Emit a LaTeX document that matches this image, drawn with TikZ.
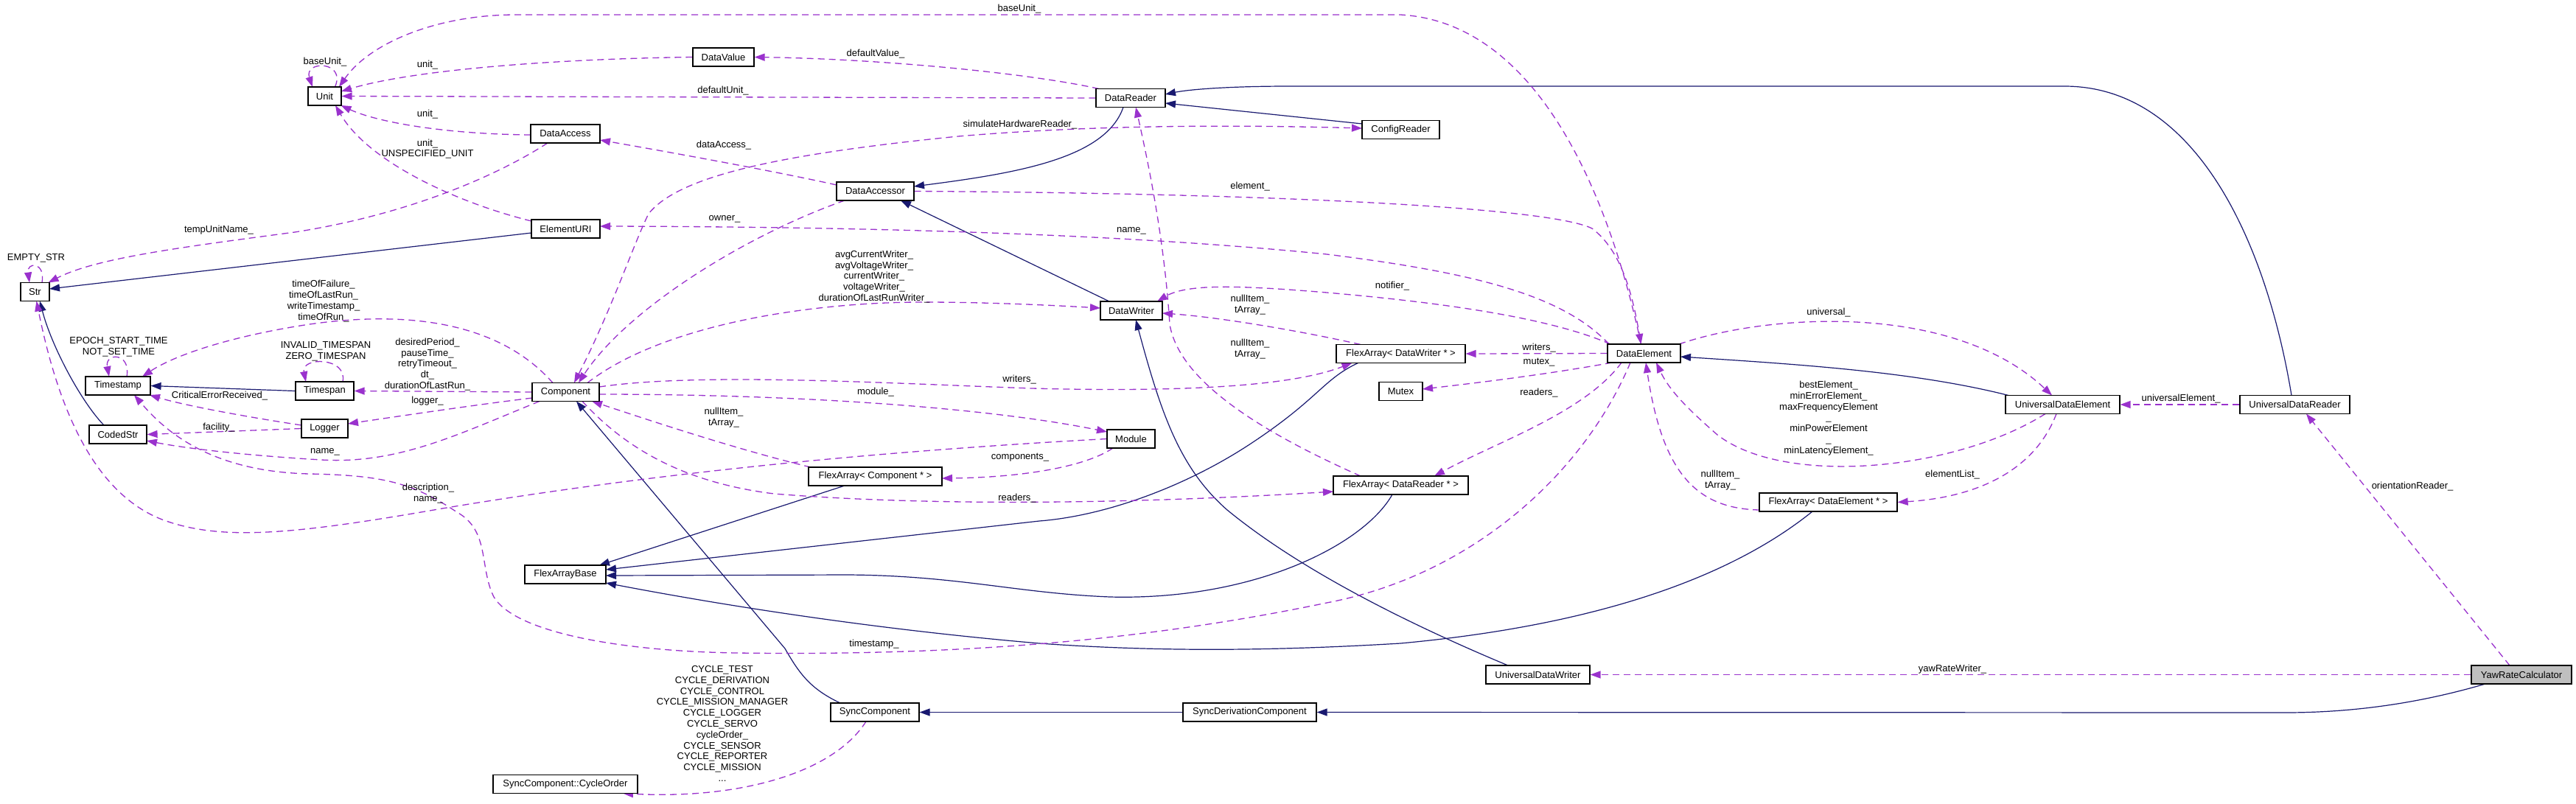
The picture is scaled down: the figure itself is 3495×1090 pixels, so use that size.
\documentclass[tikz,border=0pt]{standalone}
\usepackage{fontspec}
\setmainfont{Liberation Sans}
\usetikzlibrary{arrows.meta,calc}
\pgfdeclarelayer{back}
\pgfdeclarelayer{bg}
\pgfsetlayers{back,bg,main}
\definecolor{usecol}{HTML}{9A32CD}
\definecolor{inhcol}{HTML}{191970}
\definecolor{focus}{HTML}{BFBFBF}
\newcommand{\lblfont}{\fontsize{13}{14.8}\selectfont}
\begin{document}
\begin{tikzpicture}[x=1pt,y=-1pt,
 box/.style={draw=black, line width=1.2pt, fill=white, minimum height=25pt, inner sep=0pt, font=\lblfont},
 lbl/.style={inner sep=0pt, align=center, font=\lblfont},
 use/.style={draw=usecol, line width=1.3pt, dash pattern=on 9pt off 6pt, -{Triangle[length=14pt,width=10pt]}},
 usetwo/.style={draw=usecol, line width=1.3pt, dash pattern=on 9pt off 6pt, {Triangle[length=14pt,width=10pt]}-{Triangle[length=14pt,width=10pt]}},
 inh/.style={draw=inhcol, line width=1.2pt, -{Triangle[length=14pt,width=10pt]}},
]
\begin{pgfonlayer}{back}
\fill[white] (0,0) rectangle (3495,1090);
\end{pgfonlayer}
\useasboundingbox (0,0) rectangle (3495,1090);

% nodes
\node[box,minimum width=45pt] (Unit) at (440.5,130.5) {Unit};
\node[box,minimum width=83pt] (DataValue) at (981.5,77.5) {DataValue};
\node[box,minimum width=94pt] (DataAccess) at (767,181.5) {DataAccess};
\node[box,minimum width=93pt] (ElementURI) at (767.5,310.5) {ElementURI};
\node[box,minimum width=39pt] (Str) at (47.5,396) {Str};
\node[box,minimum width=88pt] (Timestamp) at (160,523.5) {Timestamp};
\node[box,minimum width=79pt] (Timespan) at (440.5,530.5) {Timespan};
\node[box,minimum width=91pt] (Component) at (767.5,532) {Component};
\node[box,minimum width=78pt] (CodedStr) at (160,589.5) {CodedStr};
\node[box,minimum width=63pt] (Logger) at (440.5,581.5) {Logger};
\node[box,minimum width=110pt] (FAB) at (767,779.5) {FlexArrayBase};
\node[box,minimum width=196pt] (CycleOrder) at (767,1064) {SyncComponent::CycleOrder};
\node[box,minimum width=94pt] (DataReader) at (1534,133) {DataReader};
\node[box,minimum width=105pt] (ConfigReader) at (1900.5,176) {ConfigReader};
\node[box,minimum width=105pt] (DataAccessor) at (1187.5,259.5) {DataAccessor};
\node[box,minimum width=84pt] (DataWriter) at (1535,421.5) {DataWriter};
\node[box,minimum width=175pt] (FADW) at (1900.5,480) {FlexArray< DataWriter * >};
\node[box,minimum width=59pt] (Mutex) at (1900.5,531) {Mutex};
\node[box,minimum width=65pt] (Module) at (1534.5,595.5) {Module};
\node[box,minimum width=181pt] (FAC) at (1187.5,646.5) {FlexArray< Component * >};
\node[box,minimum width=183pt] (FADR) at (1900.5,658.5) {FlexArray< DataReader * >};
\node[box,minimum width=120pt] (SyncComp) at (1187,966.5) {SyncComponent};
\node[box,minimum width=181pt] (SyncDeriv) at (1695.5,966.5) {SyncDerivationComponent};
\node[box,minimum width=99pt] (DE) at (2230.5,479.5) {DataElement};
\node[box,minimum width=155pt] (UDE) at (2798.5,549) {UniversalDataElement};
\node[box,minimum width=149pt] (UDR) at (3113.5,549) {UniversalDataReader};
\node[box,minimum width=187pt] (FADE) at (2480.5,681.5) {FlexArray< DataElement * >};
\node[box,minimum width=141pt] (UDW) at (2086.5,915.5) {UniversalDataWriter};
\node[box,minimum width=136pt,fill=focus] (YRC) at (3421,915.5) {YawRateCalculator};

% labels
\node[lbl] (lA) at (441,84) {baseUnit\_};
\node[lbl] (lB) at (580,88) {unit\_};
\node[lbl] (lC) at (580,155) {unit\_};
\node[lbl] (lD) at (580,202) {unit\_\\UNSPECIFIED\_UNIT};
\node[lbl] (lE) at (1383,12) {baseUnit\_};
\node[lbl] (lF) at (1188,73) {defaultValue\_};
\node[lbl] (lG) at (981,123) {defaultUnit\_};
\node[lbl] (lH) at (1384,169) {simulateHardwareReader\_};
\node[lbl] (lI) at (982,197) {dataAccess\_};
\node[lbl] (lJ) at (1696,253) {element\_};
\node[lbl] (lK) at (983,297) {owner\_};
\node[lbl] (lL) at (1535,313) {name\_};
\node[lbl] (lM) at (297,312) {tempUnitName\_};
\node[lbl] (lN) at (49,350) {EMPTY\_STR};
\node[lbl] (lO) at (1186,375.5) {avgCurrentWriter\_\\avgVoltageWriter\_\\currentWriter\_\\voltageWriter\_\\durationOfLastRunWriter\_};
\node[lbl] (lP) at (1889,388) {notifier\_};
\node[lbl] (lQ) at (439,408.5) {timeOfFailure\_\\timeOfLastRun\_\\writeTimestamp\_\\timeOfRun\_};
\node[lbl] (lR) at (1696,414) {nullItem\_\\tArray\_};
\node[lbl] (lS) at (1696,474) {nullItem\_\\tArray\_};
\node[lbl] (lT) at (161,470.5) {EPOCH\_START\_TIME\\NOT\_SET\_TIME};
\node[lbl] (lU) at (442,477) {INVALID\_TIMESPAN\\ZERO\_TIMESPAN};
\node[lbl] (lV) at (580,494.5) {desiredPeriod\_\\pauseTime\_\\retryTimeout\_\\dt\_\\durationOfLastRun\_};
\node[lbl] (lW) at (1383,515) {writers\_};
\node[lbl] (lX) at (1188,532) {module\_};
\node[lbl] (lY) at (298,537) {CriticalErrorReceived\_};
\node[lbl] (lZ) at (580,544) {logger\_};
\node[lbl] (la) at (297,580) {facility\_};
\node[lbl] (lb) at (441,613) {name\_};
\node[lbl] (lc) at (982,567) {nullItem\_\\tArray\_};
\node[lbl] (ld) at (1384,621) {components\_};
\node[lbl] (le) at (581,669.5) {description\_\\name\_};
\node[lbl] (lf) at (1380,676) {readers\_};
\node[lbl] (lg) at (1186,874) {timestamp\_};
\node[lbl] (lh) at (980,982) {CYCLE\_TEST\\CYCLE\_DERIVATION\\CYCLE\_CONTROL\\CYCLE\_MISSION\_MANAGER\\CYCLE\_LOGGER\\CYCLE\_SERVO\\cycleOrder\_\\CYCLE\_SENSOR\\CYCLE\_REPORTER\\CYCLE\_MISSION\\...};
\node[lbl] (li) at (2481,424) {universal\_};
\node[lbl] (lj) at (2088,472) {writers\_};
\node[lbl] (lk) at (2088,492) {mutex\_};
\node[lbl] (ll) at (2088,533) {readers\_};
\node[lbl] (lm) at (2481,567.5) {bestElement\_\\minErrorElement\_\\maxFrequencyElement\\\_\\minPowerElement\\\_\\minLatencyElement\_};
\node[lbl] (ln) at (2334,652) {nullItem\_\\tArray\_};
\node[lbl] (lo) at (2649,644) {elementList\_};
\node[lbl] (lp) at (2649,908) {yawRateWriter\_};
\node[lbl] (lq) at (2959,541) {universalElement\_};
\node[lbl] (lr) at (3273,660) {orientationReader\_};

\begin{pgfonlayer}{bg}
% inheritance edges
\draw[inh] ($(ElementURI)+(-46.5,5.5)$) -- ($(Str)+(19.5,-4)$);
\draw[inh] ($(CodedStr)+(-19,-12.5)$) .. controls (110,545) and (70,470) .. ($(Str)+(6.5,12.5)$);
\draw[inh] (Timespan.west) -- (Timestamp.east);
\draw[inh] ($(DataReader)+(-10,12.5)$) .. controls (1500,215) and (1380,235) .. ($(DataAccessor)+(52.5,-6.5)$);
\draw[inh] ($(DataWriter)+(-30,-12.5)$) -- ($(DataAccessor)+(34.5,12.5)$);
\draw[inh] ($(ConfigReader)+(-52.5,-8)$) -- ($(DataReader)+(47,7)$);
\draw[inh] ($(UDR)+(-4.5,-12.5)$) .. controls (3075,330) and (2980,117) .. (2801,117) -- (1750,117) .. controls (1660,117) and (1610,122) .. ($(DataReader)+(47,-5)$);
\draw[inh] ($(UDE)+(-73.5,-12.5)$) .. controls (2600,505) and (2450,495) .. ($(DE)+(49.5,4.5)$);
\draw[inh] ($(FAC)+(-41.5,12.5)$) -- ($(FAB)+(46,-12.5)$);
\draw[inh] ($(FADW)+(-58,12.5)$) .. controls (1795,515) and (1790,540) .. (1700,600) .. controls (1610,660) and (1500,700) .. (1410,707) -- ($(FAB)+(55,-6.5)$);
\draw[inh] ($(FADR)+(-11.5,12.5)$) .. controls (1850,740) and (1700,815) .. (1506,810) .. controls (1380,805) and (1300,781) .. (1150,780) -- ($(FAB)+(55,1.5)$);
\draw[inh] ($(FADE)+(-21.5,12.5)$) .. controls (2340,790) and (2150,850) .. (1900,873) .. controls (1700,885) and (1550,883) .. (1410,873) .. controls (1200,855) and (1000,825) .. ($(FAB)+(55,11.5)$);
\draw[inh] ($(SyncComp)+(-47,-12.5)$) .. controls (1100,935) and (1085,915) .. (1065,880) -- ($(Component)+(14.5,12.5)$);
\draw[inh] ($(UDW)+(-40.5,-12.5)$) .. controls (1900,842) and (1760,770) .. (1665,692) .. controls (1600,635) and (1575,560) .. ($(DataWriter)+(6,12.5)$);
\draw[inh] (SyncDeriv.west) -- (SyncComp.east);
\draw[inh] ($(YRC)+(-49,12.5)$) .. controls (3280,955) and (3190,967) .. (3100,967) -- (SyncDeriv.east);

% usage edges
\draw[use] ($(Unit)+(14,-12.5)$) .. controls (470,82) and (412,82) .. ($(Unit)+(-16.5,-12.5)$);
\draw[use] ($(DE)+(-4,-12.5)$) .. controls (2180,250) and (2080,30) .. (1900,20) -- (700,20) .. controls (590,20) and (500,60) .. ($(Unit)+(19.5,-12.5)$);
\draw[use] (DataValue.west) .. controls (750,80) and (560,95) .. ($(Unit)+(22.5,-6.5)$);
\draw[use] (DataReader.west) -- (Unit.east);
\draw[use] ($(DataAccess)+(-47,1.5)$) .. controls (600,182) and (510,165) .. ($(Unit)+(22,12.5)$);
\draw[use] ($(ElementURI)+(-46.5,-10.5)$) .. controls (620,275) and (500,220) .. ($(Unit)+(14.5,12.5)$);
\draw[use] ($(DataReader)+(-43,-12.5)$) .. controls (1400,100) and (1200,80) .. (DataValue.east);
\draw[use] ($(DataAccessor)+(-52.5,-8.5)$) .. controls (1050,232) and (900,205) .. ($(DataAccess)+(47,8.5)$);
\draw[use] ($(DataAccess)+(-24,12.5)$) .. controls (680,235) and (560,290) .. (400,315) .. controls (250,335) and (130,350) .. ($(Str)+(18,-12.5)$);
\draw[use] ($(Str)+(9.5,-12.5)$) .. controls (62,355) and (36,355) .. ($(Str)+(-7.5,-12.5)$);
\draw[use] (Module.west) .. controls (1200,612) and (900,640) .. (600,690) .. controls (400,725) and (300,735) .. (220,705) .. controls (130,670) and (80,560) .. ($(Str)+(2,12.5)$);
\draw[use] ($(Timestamp)+(12,-12.5)$) .. controls (178,478) and (142,478) .. ($(Timestamp)+(-12,-12.5)$);
\draw[use] ($(Timespan)+(24.5,-12.5)$) .. controls (472,484) and (408,484) .. ($(Timespan)+(-25.5,-12.5)$);
\draw[use] ($(Component)+(-17.5,-12.5)$) .. controls (680,440) and (560,420) .. (420,440) .. controls (320,455) and (240,480) .. ($(Timestamp)+(33,-12.5)$);
\draw[use] (Component.west) -- (Timespan.east);
\draw[use] ($(Component)+(-45.5,8)$) .. controls (640,550) and (540,565) .. ($(Logger)+(31.5,-6.5)$);
\draw[use] (Logger.west) -- (CodedStr.east);
\draw[use] ($(Logger)+(-31.5,-4.5)$) .. controls (330,565) and (250,550) .. ($(Timestamp)+(43,12.5)$);
\draw[use] ($(Component)+(-35.5,12.5)$) .. controls (620,590) and (540,630) .. (436,624) .. controls (350,619) and (260,610) .. ($(CodedStr)+(39,8.5)$);
\draw[use] ($(DE)+(-18.5,12.5)$) .. controls (2150,640) and (2000,780) .. (1800,818) .. controls (1550,870) and (1300,890) .. (1000,886) .. controls (850,884) and (700,860) .. (670,810) .. controls (650,770) and (665,720) .. (620,695) .. controls (560,655) and (520,645) .. (420,643) .. controls (280,640) and (220,580) .. ($(Timestamp)+(22,12.5)$);
\draw[use] ($(DE)+(-47.5,-12.5)$) .. controls (2120,400) and (2000,370) .. (1800,345) .. controls (1600,325) and (1300,308) .. ($(ElementURI)+(46.5,-3.5)$);
\draw[use] (DataAccessor.east) .. controls (1700,262) and (2100,280) .. (2160,310) .. controls (2200,340) and (2215,400) .. ($(DE)+(-4,-12.5)$);
\draw[use] ($(DE)+(-45.5,-12.5)$) .. controls (2100,430) and (1950,410) .. (1800,397) .. controls (1680,387) and (1610,385) .. ($(DataWriter)+(35,-12.5)$);
\draw[use] ($(FADW)+(-54.5,-12.5)$) .. controls (1760,448) and (1650,430) .. ($(DataWriter)+(42,3.5)$);
\draw[use] ($(FADR)+(-54.5,-12.5)$) .. controls (1720,590) and (1600,520) .. (1587,440) .. controls (1580,330) and (1560,230) .. ($(DataReader)+(7,12.5)$);
\draw[use] ($(Component)+(29.5,-12.5)$) .. controls (900,440) and (1100,410) .. (1251,410) .. controls (1350,410) and (1440,415) .. ($(DataWriter)+(-42,-3.5)$);
\draw[use] ($(Component)+(45.5,-7)$) .. controls (950,505) and (1200,520) .. (1400,527) .. controls (1600,532) and (1750,525) .. ($(FADW)+(-66,12.5)$);
\draw[use] (DE.west) -- (FADW.east);
\draw[use] ($(DE)+(-43.5,12.5)$) .. controls (2100,508) and (2000,520) .. ($(Mutex)+(29.5,-3)$);
\draw[use] ($(DE)+(-30.5,12.5)$) .. controls (2150,560) and (2030,600) .. ($(FADR)+(45.5,-12.5)$);
\draw[use] ($(Component)+(45.5,3)$) .. controls (1100,535) and (1350,555) .. ($(Module)+(-32.5,-9.5)$);
\draw[use] ($(Module)+(-24.5,12.5)$) .. controls (1470,635) and (1380,648) .. ($(FAC)+(90.5,2.5)$);
\draw[use] ($(FAC)+(-87.5,-12.5)$) .. controls (1000,610) and (880,570) .. ($(Component)+(35.5,12.5)$);
\draw[use] ($(Component)+(22.5,12.5)$) .. controls (850,610) and (930,655) .. (1050,670) .. controls (1300,690) and (1600,680) .. ($(FADR)+(-91.5,8.5)$);
\draw[use] ($(DE)+(47.5,-12.5)$) .. controls (2400,425) and (2650,410) .. ($(UDE)+(-14.5,-12.5)$);
\draw[use] ($(UDE)+(-23.5,12.5)$) .. controls (2650,640) and (2420,660) .. (2330,590) .. controls (2290,555) and (2265,530) .. ($(DE)+(16.5,12.5)$);
\draw[use] ($(FADE)+(-93.5,10.5)$) .. controls (2300,690) and (2255,640) .. ($(DE)+(2.5,12.5)$);
\draw[use] ($(UDE)+(-8.5,12.5)$) .. controls (2760,640) and (2680,675) .. (FADE.east);
\draw[use] (UDR.west) -- (UDE.east);
\draw[use] (YRC.west) -- (UDW.east);
\draw[use] ($(YRC)+(-16,-12.5)$) -- ($(UDR)+(15.5,12.5)$);
\draw[use] ($(SyncComp)+(-12,12.5)$) .. controls (1130,1050) and (1000,1085) .. ($(CycleOrder)+(78,12.5)$);
\draw[use] ($(DataAccessor)+(-41.5,12.5)$) .. controls (1010,320) and (850,420) .. ($(Component)+(17.5,-12.5)$);
\draw[usetwo] ($(Component)+(11.5,-12.5)$) .. controls (830,420) and (860,330) .. (880,290) .. controls (920,240) and (1050,210) .. (1300,185) .. controls (1500,168) and (1700,170) .. ($(ConfigReader)+(-52.5,-2)$);
\end{pgfonlayer}
\end{tikzpicture}
\end{document}
